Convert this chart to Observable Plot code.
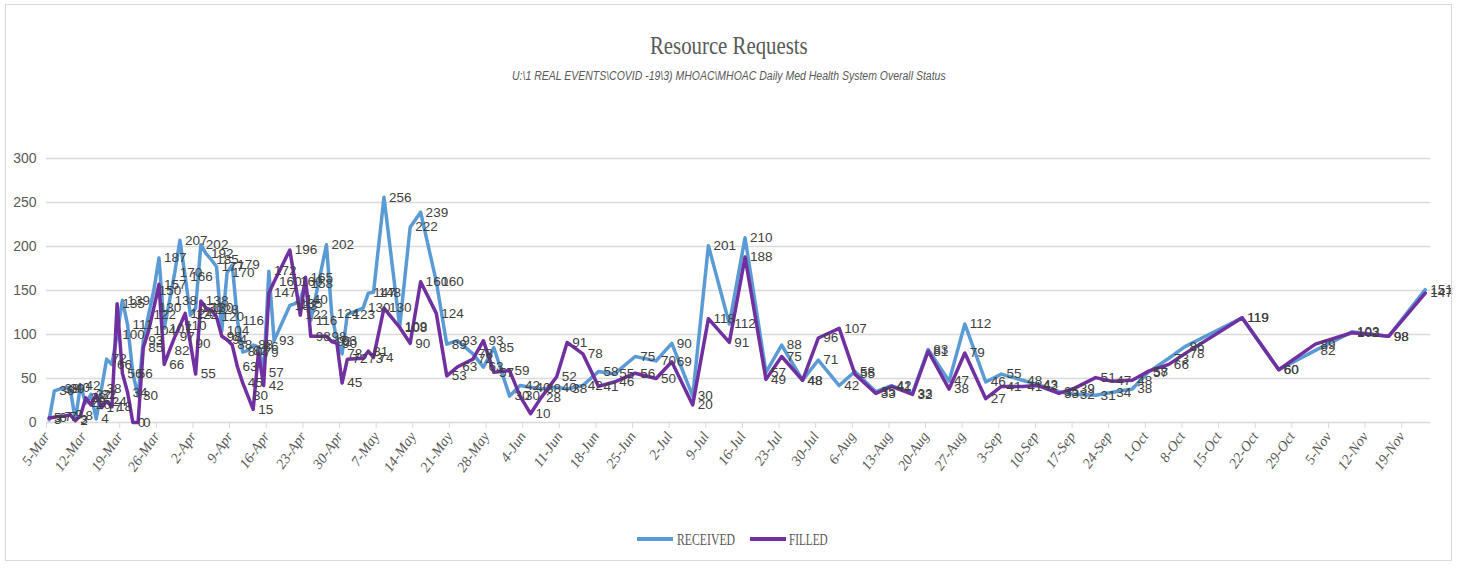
<!DOCTYPE html>
<html><head><meta charset="utf-8">
<script src="https://cdn.jsdelivr.net/npm/d3@7"></script>
<script src="https://cdn.jsdelivr.net/npm/@observablehq/plot@0.6"></script>
<style>
html,body{margin:0;padding:0;background:#fff;}
#wrap{position:relative;width:1459px;height:568px;overflow:hidden;background:#fff;}
#frame{position:absolute;left:5px;top:4px;width:1447px;height:557px;border:1px solid #d9d9d9;box-sizing:border-box;pointer-events:none;}
#chart{position:absolute;left:0;top:0;}
.fit{position:absolute;white-space:nowrap;transform-origin:0 0;line-height:1;}
#title{font-family:"Liberation Serif",serif;font-size:25px;color:#595959;}
#subtitle{font-family:"Liberation Sans",sans-serif;font-style:italic;font-size:12px;color:#595959;}
.leg{font-family:"Liberation Serif",serif;font-size:17px;color:#595959;}
.sw{position:absolute;height:4px;}
#chart svg g[aria-label="x-axis tick label"] text{font-style:italic;}
</style></head><body>
<div id="wrap">
  <div id="chart"></div>
  <div id="frame"></div>
  <span class="fit" id="title">Resource Requests</span>
  <span class="fit" id="subtitle">U:\1 REAL EVENTS\COVID -19\3) MHOAC\MHOAC Daily Med Health System Overall Status</span>
  <div class="sw" id="swR" style="background:#5B9BD5"></div>
  <span class="fit leg" id="legR">RECEIVED</span>
  <div class="sw" id="swF" style="background:#7030A0"></div>
  <span class="fit leg" id="legF">FILLED</span>
</div>
<script>
const dates = [
 "2020-03-05","2020-03-06","2020-03-07","2020-03-08","2020-03-09","2020-03-10","2020-03-11","2020-03-12","2020-03-13","2020-03-14",
 "2020-03-15","2020-03-16","2020-03-17","2020-03-18","2020-03-19","2020-03-20","2020-03-21","2020-03-22","2020-03-23","2020-03-24",
 "2020-03-25","2020-03-26","2020-03-27","2020-03-28","2020-03-29","2020-03-30","2020-03-31",
 "2020-04-01","2020-04-02","2020-04-03","2020-04-04","2020-04-05","2020-04-06","2020-04-07","2020-04-08","2020-04-09","2020-04-10",
 "2020-04-11","2020-04-12","2020-04-13","2020-04-14","2020-04-15","2020-04-16","2020-04-17",
 "2020-04-20","2020-04-21","2020-04-22","2020-04-23","2020-04-24","2020-04-27","2020-04-28","2020-04-29","2020-04-30",
 "2020-05-01","2020-05-04","2020-05-05","2020-05-06","2020-05-08","2020-05-11","2020-05-13","2020-05-15","2020-05-18","2020-05-20",
 "2020-05-22","2020-05-25","2020-05-27","2020-05-29",
 "2020-06-01","2020-06-03","2020-06-05","2020-06-07","2020-06-10","2020-06-12","2020-06-15","2020-06-18","2020-06-21","2020-06-25","2020-06-29",
 "2020-07-02","2020-07-06","2020-07-09","2020-07-13","2020-07-16","2020-07-20","2020-07-23","2020-07-27","2020-07-30",
 "2020-08-03","2020-08-06","2020-08-10","2020-08-13","2020-08-17","2020-08-20","2020-08-24","2020-08-27","2020-08-31",
 "2020-09-03","2020-09-07","2020-09-10","2020-09-14","2020-09-17","2020-09-21","2020-09-24","2020-09-28",
 "2020-10-01","2020-10-05","2020-10-08","2020-10-19","2020-10-26",
 "2020-11-02","2020-11-09","2020-11-16","2020-11-23"
];
const received = [
 3,36,38,39,40,3,42,22,32,4,
 38,72,66,100,139,111,56,30,93,122,
 150,187,107,138,170,207,166,
 122,130,202,192,185,177,104,170,179,116,
 80,82,88,86,57,172,93,
 133,135,140,158,116,202,124,93,78,
 123,130,147,148,256,109,222,239,160,89,
 93,78,63,85,
 30,42,40,38,40,38,42,58,55,75,70,
 90,30,201,112,210,57,88,48,71,
 42,58,35,42,33,83,47,112,46,
 55,48,43,35,32,31,34,38,
 57,73,86,119,60,
 82,103,98,151
];
const filled = [
 5,6,7,7,9,2,8,28,20,32,
 17,24,18,135,56,34,0,0,85,104,
 130,157,66,82,97,110,124,
 90,55,138,130,128,120,98,94,88,63,
 45,30,15,79,42,147,160,
 196,160,122,165,98,98,92,90,45,
 72,73,81,74,130,108,90,160,124,53,
 63,72,93,57,
 59,30,10,28,52,91,78,41,46,56,50,
 69,20,118,91,188,49,75,48,96,
 107,55,33,41,32,81,38,79,27,
 41,41,42,33,39,51,47,48,
 58,66,78,119,60,
 89,102,98,147
];
const seriesNames = ["RECEIVED","FILLED"];
const seriesColors = ["#5B9BD5","#7030A0"];
const tickDates = [
 "2020-03-05","2020-03-12","2020-03-19","2020-03-26","2020-04-02","2020-04-09","2020-04-16","2020-04-23","2020-04-30",
 "2020-05-07","2020-05-14","2020-05-21","2020-05-28","2020-06-04","2020-06-11","2020-06-18","2020-06-25",
 "2020-07-02","2020-07-09","2020-07-16","2020-07-23","2020-07-30","2020-08-06","2020-08-13","2020-08-20","2020-08-27",
 "2020-09-03","2020-09-10","2020-09-17","2020-09-24","2020-10-01","2020-10-08","2020-10-15","2020-10-22","2020-10-29",
 "2020-11-05","2020-11-12","2020-11-19"
];
const tickLabels = [
 "5-Mar","12-Mar","19-Mar","26-Mar","2-Apr","9-Apr","16-Apr","23-Apr","30-Apr",
 "7-May","14-May","21-May","28-May","4-Jun","11-Jun","18-Jun","25-Jun",
 "2-Jul","9-Jul","16-Jul","23-Jul","30-Jul","6-Aug","13-Aug","20-Aug","27-Aug",
 "3-Sep","10-Sep","17-Sep","24-Sep","1-Oct","8-Oct","15-Oct","22-Oct","29-Oct",
 "5-Nov","12-Nov","19-Nov"
];
const yTicks = [0,50,100,150,200,250,300];

const HALF = 12*3600*1000;
const long = [];
[received, filled].forEach((vals, s) => {
  vals.forEach((v, i) => long.push({date: new Date(dates[i] + "T00:00:00Z"), value: v, series: seriesNames[s]}));
});
const tickPos = tickDates.map(d => new Date(new Date(d + "T00:00:00Z").getTime() - HALF));
const labelMap = new Map(tickPos.map((d, i) => [+d, tickLabels[i]]));

const chart = Plot.plot({
  width: 1459, height: 568,
  marginLeft: 46, marginRight: 29, marginTop: 158, marginBottom: 146,
  x: {type: "utc", domain: [new Date("2020-03-04T12:00:00Z"), new Date("2020-11-24T00:00:00Z")], label: null},
  y: {domain: [0, 300], label: null},
  color: {domain: seriesNames, range: seriesColors},
  style: {fontFamily: "Liberation Sans, sans-serif", fontSize: "13px", color: "#595959", background: "white"},
  marks: [
    Plot.gridY(yTicks.filter(t => t > 0), {stroke: "#d9d9d9", strokeOpacity: 1, strokeWidth: 1.3}),
    Plot.ruleY([0], {stroke: "#d9d9d9", strokeWidth: 1.3}),
    Plot.axisY({ticks: yTicks, tickSize: 0, tickPadding: 10, fontSize: 14, fill: "#595959", label: null}),
    Plot.axisX({ticks: tickPos, tickFormat: d => labelMap.get(+d), tickRotate: -55, tickSize: 6, tickPadding: 5,
      stroke: "#d9d9d9", fill: "#595959", fontFamily: "Liberation Serif, serif", fontSize: 14.5, label: null}),
    Plot.line(long, {x: "date", y: "value", z: "series", stroke: "series", strokeWidth: 3.5, strokeLinejoin: "round"}),
    Plot.text(long, {x: "date", y: "value", text: d => String(d.value), dx: 5, textAnchor: "start", fill: "#404040", fontSize: 13.5})
  ]
});
document.getElementById("chart").appendChild(chart);

function fit(id, left, right, cy) {
  const el = document.getElementById(id);
  const w = el.offsetWidth, h = el.offsetHeight;
  el.style.left = left + "px";
  el.style.top = (cy - h / 2) + "px";
  el.style.transform = "scaleX(" + ((right - left) / w) + ")";
}
fit("title", 650, 808, 45);
fit("subtitle", 512, 946, 76);
fit("legR", 677, 735, 539);
fit("legF", 789, 828, 539);
function sw(id, l, r, cy) {
  const el = document.getElementById(id);
  el.style.left = l + "px"; el.style.width = (r - l) + "px"; el.style.top = (cy - 2) + "px";
}
sw("swR", 637, 673, 539);
sw("swF", 750, 786, 539);
</script>
</body></html>
